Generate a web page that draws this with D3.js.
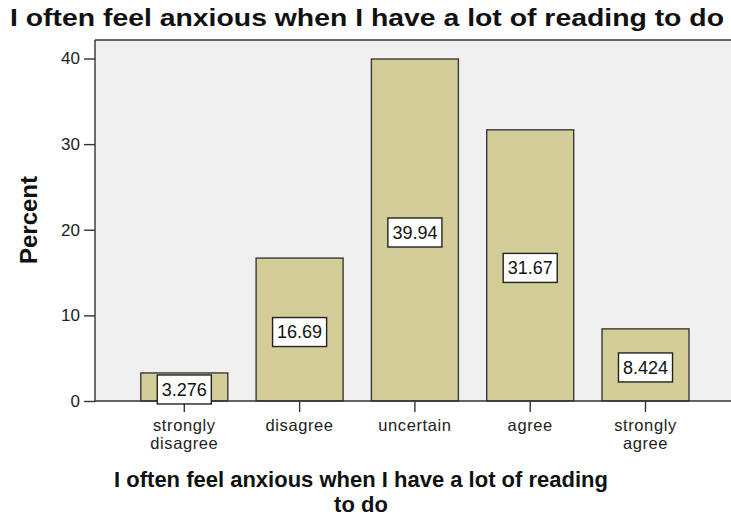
<!DOCTYPE html>
<html>
<head>
<meta charset="utf-8">
<script src="https://cdn.jsdelivr.net/npm/d3@7/dist/d3.min.js"></script>
<style>
  html, body { margin: 0; padding: 0; background: #ffffff; }
  svg { display: block; }
  text { font-family: "Liberation Sans", Arial, sans-serif; }
</style>
</head>
<body>
<svg id="chart" width="731" height="517"></svg>
<script>
// Survey item: share of respondents per answer
const categories = ["strongly disagree", "disagree", "uncertain", "agree", "strongly agree"];
const categoryLines = [["strongly", "disagree"], ["disagree"], ["uncertain"], ["agree"], ["strongly", "agree"]];
const percents = [3.276, 16.69, 39.94, 31.67, 8.424];
const yTicks = [0, 10, 20, 30, 40];
const chartTitle = "I often feel anxious when I have a lot of reading to do";
const xTitleLines = ["I often feel anxious when I have a lot of reading", "to do"];
const yTitle = "Percent";

const W = 731, H = 517;
const plot = { left: 95, right: 731, top: 40, bottom: 401 };

const svg = d3.select("#chart");

const y = d3.scaleLinear().domain([0, 42.16]).range([plot.bottom, plot.top]);
const x = d3.scaleBand()
  .domain(categories)
  .range([126.65, 703.15])
  .paddingInner(0.2455)
  .paddingOuter(0.12275);

// plot background
svg.append("rect")
  .attr("x", plot.left).attr("y", plot.top)
  .attr("width", plot.right - plot.left)
  .attr("height", plot.bottom - plot.top)
  .attr("fill", "#f0f0f0");

// bars
const data = categories.map((c, i) => ({ cat: c, value: percents[i] }));
svg.append("g").selectAll("rect")
  .data(data)
  .join("rect")
  .attr("x", d => x(d.cat))
  .attr("y", d => y(d.value))
  .attr("width", x.bandwidth())
  .attr("height", d => y(0) - y(d.value))
  .attr("fill", "#d3ce98")
  .attr("stroke", "#3a3a3a")
  .attr("stroke-width", 1.4);

// frame: top border, left axis, baseline
const frame = svg.append("g").attr("stroke", "#333").attr("stroke-width", 1.4).attr("fill", "none");
frame.append("line").attr("x1", plot.left).attr("x2", plot.right).attr("y1", plot.top).attr("y2", plot.top);
frame.append("line").attr("x1", plot.left).attr("x2", plot.left).attr("y1", plot.top).attr("y2", plot.bottom);
frame.append("line").attr("x1", plot.left).attr("x2", plot.right).attr("y1", plot.bottom).attr("y2", plot.bottom);

// y axis
const yAxis = svg.append("g")
  .attr("transform", `translate(${plot.left},0)`)
  .call(d3.axisLeft(y).tickValues(yTicks).tickSize(11).tickPadding(4));
yAxis.select(".domain").remove();
yAxis.selectAll(".tick line").attr("stroke", "#333").attr("stroke-width", 1.4);
yAxis.selectAll(".tick text")
  .attr("fill", "#222")
  .style("font-family", "'Liberation Sans', Arial, sans-serif")
  .style("font-size", "17px");

// x axis with two-line category labels
const xAxis = svg.append("g")
  .attr("transform", `translate(0,${plot.bottom})`)
  .call(d3.axisBottom(x).tickSize(11).tickFormat(""));
xAxis.select(".domain").remove();
xAxis.selectAll(".tick line").attr("stroke", "#333").attr("stroke-width", 1.4);
xAxis.selectAll(".tick").each(function (d, i) {
  const t = d3.select(this).append("text")
    .attr("fill", "#222")
    .attr("text-anchor", "middle")
    .style("font-family", "'Liberation Sans', Arial, sans-serif")
    .style("font-size", "16.5px")
    .style("letter-spacing", "0.6px");
  categoryLines[i].forEach((line, k) => {
    t.append("tspan").attr("x", 0).attr("y", 29.5 + k * 18).text(line);
  });
});

// value labels in boxed callouts at bar mid-height
const fmt = d3.format(".4");
const labels = svg.append("g").selectAll("g")
  .data(data)
  .join("g")
  .attr("transform", d => `translate(${x(d.cat) + x.bandwidth() / 2},${(y(d.value) + y(0)) / 2 + 2.5})`);
labels.append("text")
  .attr("text-anchor", "middle")
  .attr("dy", "0.35em")
  .attr("fill", "#111")
  .style("font-size", "18px")
  .text(d => fmt(d.value));
labels.each(function () {
  const g = d3.select(this);
  const bb = g.select("text").node().getBBox();
  const w = bb.width + 9, h = 29;
  g.insert("rect", "text")
    .attr("x", -w / 2).attr("y", -h / 2)
    .attr("width", w).attr("height", h)
    .attr("fill", "#ffffff")
    .attr("stroke", "#222")
    .attr("stroke-width", 1.4);
});

// chart title
svg.append("text")
  .attr("x", 367).attr("y", 26)
  .attr("text-anchor", "middle")
  .attr("textLength", 714)
  .attr("lengthAdjust", "spacingAndGlyphs")
  .style("font-size", "24px")
  .style("font-weight", "bold")
  .attr("fill", "#111")
  .text(chartTitle);

// y axis title
svg.append("text")
  .attr("transform", "translate(37,220) rotate(-90)")
  .attr("text-anchor", "middle")
  .style("font-size", "24px")
  .style("font-weight", "bold")
  .attr("fill", "#111")
  .text(yTitle);

// x axis title
const xt = svg.append("text")
  .attr("text-anchor", "middle")
  .style("font-size", "22px")
  .style("font-weight", "bold")
  .attr("fill", "#111");
xTitleLines.forEach((line, k) => {
  xt.append("tspan").attr("x", 361).attr("y", 487 + k * 24.5).text(line);
});
</script>
</body>
</html>
